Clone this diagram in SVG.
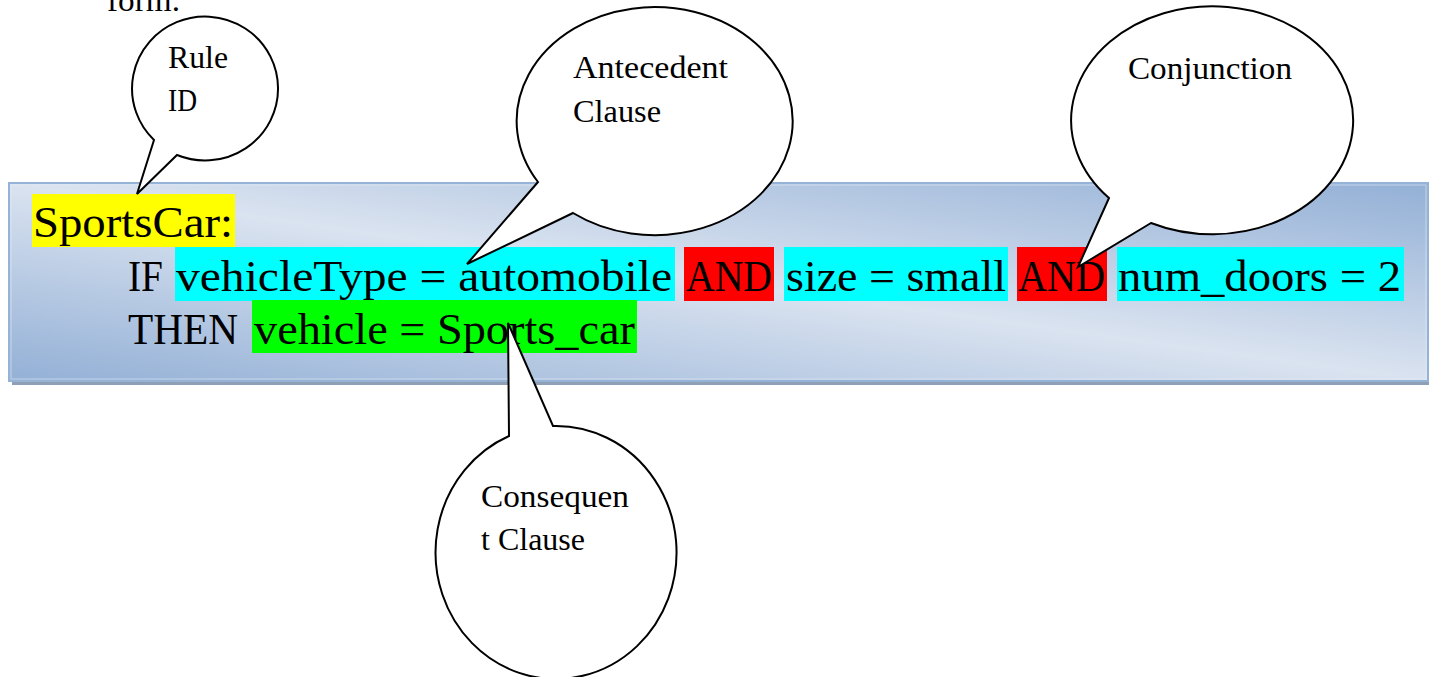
<svg xmlns="http://www.w3.org/2000/svg" width="1429" height="677" viewBox="0 0 1429 677">
<style>
.main{font-family:"Liberation Serif","Times New Roman",serif;font-size:45px;fill:#000}
.lbl{font-family:"Liberation Serif","Times New Roman",serif;font-size:31px;fill:#000}
.callout{fill:#fff;stroke:#000;stroke-width:2;stroke-linejoin:miter}
</style>
<defs>
<linearGradient id="boxGrad" x1="0" y1="1" x2="1" y2="0">
<stop offset="0" stop-color="#93b0d6"/>
<stop offset="0.5" stop-color="#dae3f0"/>
<stop offset="1" stop-color="#93b0d6"/>
</linearGradient>
</defs>
<rect width="1429" height="677" fill="#fff"/>
<text class="lbl" x="107" y="11" textLength="73" lengthAdjust="spacingAndGlyphs">form.</text>
<g id="rule-box">
<rect x="12" y="378" width="1417" height="7" fill="#8fa0b6"/>
<rect x="9" y="183" width="1419" height="198" fill="url(#boxGrad)" stroke="#95b3d7" stroke-width="2"/>
<rect x="11" y="185" width="1415" height="194" fill="none" stroke="#e4ebf5" stroke-width="1" opacity="0.6"/>
<rect x="32" y="194" width="203" height="53" fill="#ffff00"/>
<rect x="175" y="247" width="500" height="54" fill="#00ffff"/>
<rect x="684" y="247" width="90" height="54" fill="#ff0000"/>
<rect x="784" y="247" width="224" height="54" fill="#00ffff"/>
<rect x="1017" y="247" width="90" height="54" fill="#ff0000"/>
<rect x="1117" y="247" width="287" height="54" fill="#00ffff"/>
<rect x="252" y="300" width="385" height="53" fill="#00ff00"/>
<text class="main" x="33" y="237" textLength="200" lengthAdjust="spacingAndGlyphs">SportsCar:</text>
<text class="main" x="128" y="291" textLength="35" lengthAdjust="spacingAndGlyphs">IF</text>
<text class="main" x="176" y="291" textLength="496" lengthAdjust="spacingAndGlyphs">vehicleType = automobile</text>
<text class="main" x="686" y="291" textLength="86" lengthAdjust="spacingAndGlyphs">AND</text>
<text class="main" x="786" y="291" textLength="220" lengthAdjust="spacingAndGlyphs">size = small</text>
<text class="main" x="1018" y="291" textLength="87" lengthAdjust="spacingAndGlyphs">AND</text>
<text class="main" x="1118" y="291" textLength="283" lengthAdjust="spacingAndGlyphs">num_doors = 2</text>
<text class="main" x="128" y="344" textLength="110" lengthAdjust="spacingAndGlyphs">THEN</text>
<text class="main" x="254" y="344" textLength="381" lengthAdjust="spacingAndGlyphs">vehicle = Sports_car</text>
</g>
<g id="connectors"/>
<g id="callout-rule-id">
<path class="callout" d="M154,140 L137,194 L177,155 A73,72 0 1 0 154,140 Z"/>
<text class="lbl" x="168" y="68" textLength="60" lengthAdjust="spacingAndGlyphs">Rule</text>
<text class="lbl" x="168" y="111" textLength="29" lengthAdjust="spacingAndGlyphs">ID</text>
</g>
<g id="callout-antecedent">
<path class="callout" d="M538,182 L467,264 L573,213 A138,114 0 1 0 538,182 Z"/>
<text class="lbl" x="573" y="78" textLength="155" lengthAdjust="spacingAndGlyphs">Antecedent</text>
<text class="lbl" x="573" y="122" textLength="88" lengthAdjust="spacingAndGlyphs">Clause</text>
</g>
<g id="callout-conjunction">
<path class="callout" d="M1109,198 L1078,267 L1151,223 A141,114 0 1 0 1109,198 Z"/>
<text class="lbl" x="1128" y="79" textLength="164" lengthAdjust="spacingAndGlyphs">Conjunction</text>
</g>
<g id="callout-consequent">
<path class="callout" d="M509,436 L508,323 L553,426 A120.5,126.5 0 1 1 509,436 Z"/>
<text class="lbl" x="481" y="507" textLength="148" lengthAdjust="spacingAndGlyphs">Consequen</text>
<text class="lbl" x="481" y="550" textLength="104" lengthAdjust="spacingAndGlyphs">t Clause</text>
</g>
</svg>
